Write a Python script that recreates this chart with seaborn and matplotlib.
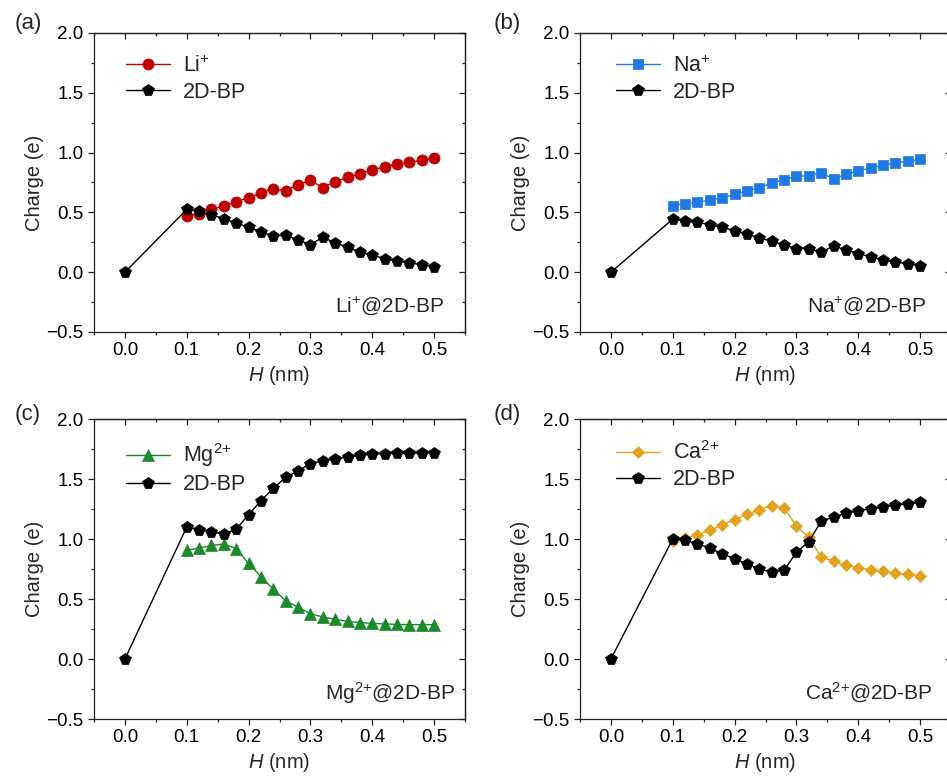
import matplotlib
matplotlib.use("Agg")
import matplotlib.pyplot as plt
from matplotlib.ticker import MultipleLocator
import seaborn as sns
import pandas as pd

sns.set_style("ticks")
plt.rcParams["font.family"] = ["Liberation Sans", "DejaVu Sans"]
plt.rcParams["mathtext.fontset"] = "custom"
plt.rcParams["mathtext.rm"] = "Liberation Sans"
plt.rcParams["mathtext.it"] = "Liberation Sans:italic"
plt.rcParams["mathtext.bf"] = "Liberation Sans:bold"
plt.rcParams["axes.unicode_minus"] = True

# Height above the surface (nm)
H_bp = [0.00, 0.10, 0.12, 0.14, 0.16, 0.18, 0.20, 0.22, 0.24, 0.26, 0.28,
        0.30, 0.32, 0.34, 0.36, 0.38, 0.40, 0.42, 0.44, 0.46, 0.48, 0.50]
H_ion = [0.10, 0.12, 0.14, 0.16, 0.18, 0.20, 0.22, 0.24, 0.26, 0.28,
         0.30, 0.32, 0.34, 0.36, 0.38, 0.40, 0.42, 0.44, 0.46, 0.48, 0.50]

# Charges (e)
li_ion = [0.469, 0.490, 0.525, 0.553, 0.589, 0.622, 0.661, 0.697, 0.683, 0.731,
          0.767, 0.708, 0.756, 0.792, 0.825, 0.853, 0.883, 0.903, 0.919, 0.936, 0.953]
li_bp = [0.0, 0.525, 0.508, 0.480, 0.447, 0.411, 0.375, 0.339, 0.300, 0.311, 0.269,
         0.231, 0.292, 0.247, 0.208, 0.169, 0.142, 0.114, 0.094, 0.081, 0.061, 0.047]

na_ion = [0.556, 0.572, 0.586, 0.603, 0.622, 0.650, 0.681, 0.708, 0.744, 0.775,
          0.803, 0.806, 0.831, 0.781, 0.817, 0.847, 0.872, 0.894, 0.914, 0.928, 0.944]
na_bp = [0.0, 0.444, 0.428, 0.417, 0.397, 0.375, 0.347, 0.319, 0.289, 0.258, 0.228,
         0.197, 0.197, 0.167, 0.219, 0.186, 0.156, 0.128, 0.103, 0.086, 0.069, 0.056]

mg_ion = [0.906, 0.925, 0.947, 0.958, 0.919, 0.797, 0.686, 0.581, 0.486, 0.431,
          0.378, 0.350, 0.331, 0.314, 0.303, 0.297, 0.292, 0.289, 0.286, 0.286, 0.286]
mg_bp = [0.0, 1.100, 1.078, 1.058, 1.042, 1.081, 1.203, 1.319, 1.422, 1.514, 1.569,
         1.628, 1.653, 1.669, 1.683, 1.697, 1.706, 1.711, 1.714, 1.714, 1.717, 1.717]

ca_ion = [0.986, 1.006, 1.033, 1.072, 1.117, 1.161, 1.206, 1.244, 1.278, 1.261,
          1.108, 1.014, 0.850, 0.814, 0.781, 0.761, 0.744, 0.731, 0.717, 0.706, 0.692]
ca_bp = [0.0, 1.000, 0.989, 0.961, 0.922, 0.878, 0.836, 0.792, 0.753, 0.722, 0.739,
         0.889, 0.978, 1.147, 1.183, 1.214, 1.236, 1.253, 1.267, 1.281, 1.294, 1.306]

panel_tags = ["(a)", "(b)", "(c)", "(d)"]
ion_labels = ["Li$^{+}$", "Na$^{+}$", "Mg$^{2{+}}$", "Ca$^{2{+}}$"]
system_labels = ["Li$^{+}$@2D-BP", "Na$^{+}$@2D-BP",
                 "Mg$^{2{+}}$@2D-BP", "Ca$^{2{+}}$@2D-BP"]
ion_series = [li_ion, na_ion, mg_ion, ca_ion]
bp_series = [li_bp, na_bp, mg_bp, ca_bp]

ion_colors = ["#C00000", "#1E78E6", "#1A8A2A", "#E3A21C"]
ion_markers = ["o", "s", "^", "D"]
ion_msizes = [8, 7, 8, 6]

W, Hpx = 947, 778
fig = plt.figure(figsize=(W / 100, Hpx / 100), dpi=100)

# axes boxes in pixels: left, top, right, bottom
boxes = [(94, 33, 465, 332), (580, 33, 951, 332),
         (94, 419, 465, 719), (580, 419, 951, 719)]
tag_pos = [(28, 24), (507, 24), (28, 414), (507, 414)]
legend_x = [0.086, 0.097, 0.086, 0.097]
note_x = [0.943, 0.935, 0.973, 0.951]

edge = "#222222"
TICK_FS = 13.5

for i in range(4):
    l, t, r, b = boxes[i]
    ax = fig.add_axes([l / W, 1 - b / Hpx, (r - l) / W, (b - t) / Hpx])

    df_ion = pd.DataFrame({"H": H_ion, "q": ion_series[i]})
    df_bp = pd.DataFrame({"H": H_bp, "q": bp_series[i]})

    c = ion_colors[i]
    sns.lineplot(data=df_ion, x="H", y="q", ax=ax, color=c, linewidth=1.0,
                 marker=ion_markers[i], markersize=ion_msizes[i],
                 markeredgecolor=c, markeredgewidth=0.5, label=ion_labels[i])
    sns.lineplot(data=df_bp, x="H", y="q", ax=ax, color="black", linewidth=1.0,
                 marker="p", markersize=8.5,
                 markeredgecolor="black", markeredgewidth=0.5, label="2D-BP")

    ax.set_xlim(-0.05, 0.55)
    ax.set_ylim(-0.5, 2.0)
    ax.set_xticks([0.0, 0.1, 0.2, 0.3, 0.4, 0.5])
    ax.set_yticks([-0.5, 0.0, 0.5, 1.0, 1.5, 2.0])
    ax.xaxis.set_minor_locator(MultipleLocator(0.05))
    ax.yaxis.set_minor_locator(MultipleLocator(0.25))
    ax.tick_params(which="both", direction="out", top=False, right=False,
                   color=edge, width=0.9, labelsize=TICK_FS, pad=3.5, labelcolor="black")
    ax.tick_params(which="major", length=4)
    ax.tick_params(which="minor", length=2.5)
    for s in ax.spines.values():
        s.set_visible(True)
        s.set_linewidth(0.9)
        s.set_color(edge)

    # mirrored ticks on the top and right edges, pointing inward
    secx = ax.secondary_xaxis("top")
    secx.set_xticks([0.0, 0.1, 0.2, 0.3, 0.4, 0.5])
    secx.xaxis.set_minor_locator(MultipleLocator(0.05))
    secx.tick_params(which="both", direction="in", labeltop=False, color=edge, width=0.9)
    secx.tick_params(which="major", length=4)
    secx.tick_params(which="minor", length=2.5)
    secx.spines["top"].set_linewidth(0.9)
    secx.spines["top"].set_color(edge)
    secy = ax.secondary_yaxis("right")
    secy.set_yticks([-0.5, 0.0, 0.5, 1.0, 1.5, 2.0])
    secy.yaxis.set_minor_locator(MultipleLocator(0.25))
    secy.tick_params(which="both", direction="in", labelright=False, color=edge, width=0.9)
    secy.tick_params(which="major", length=4)
    secy.tick_params(which="minor", length=2.5)
    secy.spines["right"].set_linewidth(0.9)
    secy.spines["right"].set_color(edge)

    ax.set_xlabel("$H$ (nm)", fontsize=14.5)
    ax.set_ylabel("Charge (e)", fontsize=14.5)
    ax.xaxis.set_label_coords(0.5, -0.108)
    ax.yaxis.set_label_coords(-0.135, 0.5)

    ax.legend(loc="upper left", bbox_to_anchor=(legend_x[i], 0.925),
              frameon=False, fontsize=15.5, borderpad=0, borderaxespad=0,
              handlelength=2.05, handletextpad=0.6, labelspacing=0.23)

    ax.text(note_x[i], 0.088, system_labels[i], transform=ax.transAxes,
            ha="right", va="center", fontsize=15)

    fig.text(tag_pos[i][0] / W, 1 - tag_pos[i][1] / Hpx, panel_tags[i],
             ha="center", va="center", fontsize=16)

fig.savefig("out.png", dpi=100)
